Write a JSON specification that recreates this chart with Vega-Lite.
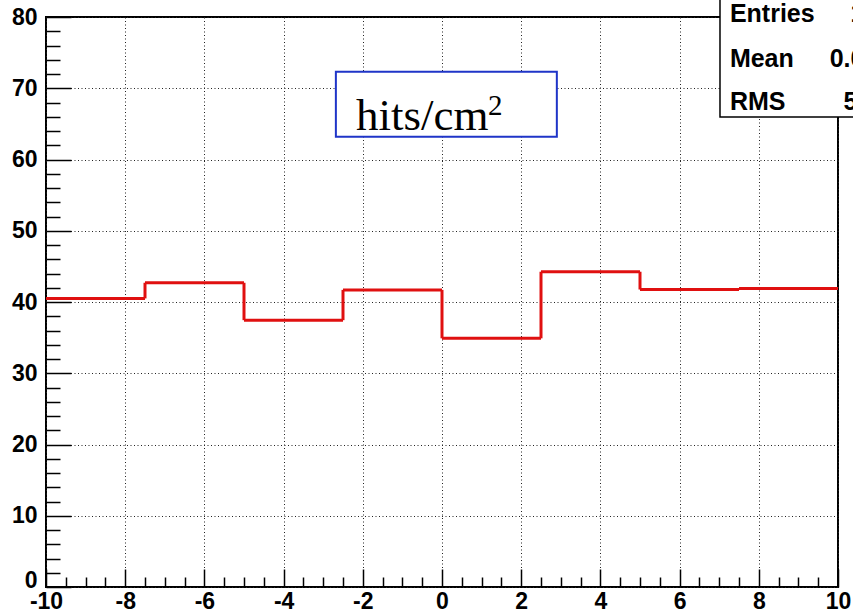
{
  "$schema": "https://vega.github.io/schema/vega-lite/v6.json",
  "width": 792,
  "height": 570,
  "autosize": {"type": "none"},
  "padding": {"left": 46, "top": 17, "right": 15, "bottom": 29},
  "background": "white",
  "config": {
    "view": {"stroke": "black", "strokeWidth": 2},
    "axis": {"domain": false, "title": null, "tickColor": "black", "labelColor": "black", "labelFont": "Liberation Sans", "labelFontWeight": "bold", "labelFontSize": 23}
  },
  "datasets": {
    "bins": [
      {"lo": -10, "hi": -7.5, "count": 40.5},
      {"lo": -7.5, "hi": -5, "count": 42.7},
      {"lo": -5, "hi": -2.5, "count": 37.45},
      {"lo": -2.5, "hi": 0, "count": 41.7},
      {"lo": 0, "hi": 2.5, "count": 34.9},
      {"lo": 2.5, "hi": 5, "count": 44.25},
      {"lo": 5, "hi": 7.5, "count": 41.75},
      {"lo": 7.5, "hi": 10, "count": 41.9}
    ],
    "note": [{"x": -2.68, "x2": 2.9, "y": 72.3, "y2": 63.2}],
    "noteText": [{"x": -2.17, "y": 64.1, "t": "hits/cm"}],
    "noteSup": [{"x": 1.16, "y": 66.3, "t": "2"}],
    "statsBox": [{"x": 7.02, "x2": 12.5, "y": 65.96, "y2": 84}],
    "stats": [
      {"label": "Entries", "value": "1200", "lx": 7.27, "vx": 11.72, "y": 79.3},
      {"label": "Mean", "value": "0.0146", "lx": 7.27, "vx": 11.72, "y": 72.98},
      {"label": "RMS", "value": "5.772", "lx": 7.27, "vx": 11.72, "y": 66.95}
    ]
  },
  "resolve": {"axis": {"x": "independent", "y": "independent"}},
  "layer": [
    {
      "data": {"name": "bins"},
      "mark": {"type": "rule", "color": "#e01010", "strokeWidth": 3},
      "encoding": {
        "x": {"field": "lo", "type": "quantitative", "scale": {"domain": [-10, 10], "nice": false, "zero": false},
          "axis": {"orient": "bottom", "values": [-9.5,-9,-8.5,-7.5,-7,-6.5,-5.5,-5,-4.5,-3.5,-3,-2.5,-1.5,-1,-0.5,0.5,1,1.5,2.5,3,3.5,4.5,5,5.5,6.5,7,7.5,8.5,9,9.5], "tickSize": -10, "tickWidth": 1.5, "labels": false, "grid": false}},
        "x2": {"field": "hi"},
        "y": {"field": "count", "type": "quantitative", "scale": {"domain": [0, 80], "nice": false, "zero": true},
          "axis": {"orient": "left", "values": [2,4,6,8,12,14,16,18,22,24,26,28,32,34,36,38,42,44,46,48,52,54,56,58,62,64,66,68,72,74,76,78], "tickSize": -14, "tickWidth": 1.5, "labels": false, "grid": false}}
      }
    },
    {
      "data": {"name": "bins"},
      "transform": [
        {"window": [{"op": "lag", "field": "count", "as": "prev"}], "sort": [{"field": "lo"}]},
        {"filter": "datum.prev != null"}
      ],
      "mark": {"type": "rule", "color": "#e01010", "strokeWidth": 3},
      "encoding": {
        "x": {"field": "lo", "type": "quantitative",
          "axis": {"orient": "bottom", "values": [-10,-8,-6,-4,-2,0,2,4,6,8,10], "labelExpr": "'' + datum.value", "tickSize": -18, "tickWidth": 1.5, "labelPadding": 21, "labelFlush": false, "labelOverlap": false, "grid": true, "gridDash": [1, 2.5], "gridColor": "#222222", "gridWidth": 1}},
        "y": {"field": "prev", "type": "quantitative",
          "axis": {"orient": "left", "values": [0,10,20,30,40,50,60,70,80], "tickSize": -25, "tickWidth": 1.5, "labelPadding": 34, "labelFlush": false, "labelOverlap": false,
            "labelBaseline": {"condition": {"test": "datum.value == 0", "value": "alphabetic"}, "value": "middle"},
            "grid": true, "gridDash": [1, 2.5], "gridColor": "#222222", "gridWidth": 1}},
        "y2": {"field": "count"}
      }
    },
    {
      "data": {"name": "note"},
      "mark": {"type": "rect", "fill": "white", "stroke": "#1f35c8", "strokeWidth": 2},
      "encoding": {
        "x": {"field": "x", "type": "quantitative", "axis": null},
        "x2": {"field": "x2"},
        "y": {"field": "y", "type": "quantitative", "axis": null},
        "y2": {"field": "y2"}
      }
    },
    {
      "data": {"name": "noteText"},
      "mark": {"type": "text", "font": "Liberation Serif", "fontSize": 45, "align": "left", "baseline": "alphabetic", "color": "black"},
      "encoding": {
        "x": {"field": "x", "type": "quantitative", "axis": null},
        "y": {"field": "y", "type": "quantitative", "axis": null},
        "text": {"field": "t"}
      }
    },
    {
      "data": {"name": "noteSup"},
      "mark": {"type": "text", "font": "Liberation Serif", "fontSize": 29, "align": "left", "baseline": "alphabetic", "color": "black"},
      "encoding": {
        "x": {"field": "x", "type": "quantitative", "axis": null},
        "y": {"field": "y", "type": "quantitative", "axis": null},
        "text": {"field": "t"}
      }
    },
    {
      "data": {"name": "statsBox"},
      "mark": {"type": "rect", "fill": "white", "stroke": "black", "strokeWidth": 1.5},
      "encoding": {
        "x": {"field": "x", "type": "quantitative", "axis": null},
        "x2": {"field": "x2"},
        "y": {"field": "y", "type": "quantitative", "axis": null},
        "y2": {"field": "y2"}
      }
    },
    {
      "data": {"name": "stats"},
      "mark": {"type": "text", "font": "Liberation Sans", "fontWeight": "bold", "fontSize": 25, "align": "left", "baseline": "alphabetic", "color": "black"},
      "encoding": {
        "x": {"field": "lx", "type": "quantitative", "axis": null},
        "y": {"field": "y", "type": "quantitative", "axis": null},
        "text": {"field": "label"}
      }
    },
    {
      "data": {"name": "stats"},
      "mark": {"type": "text", "font": "Liberation Sans", "fontWeight": "bold", "fontSize": 25, "align": "right", "baseline": "alphabetic", "color": "black"},
      "encoding": {
        "x": {"field": "vx", "type": "quantitative", "axis": null},
        "y": {"field": "y", "type": "quantitative", "axis": null},
        "text": {"field": "value"}
      }
    }
  ]
}
